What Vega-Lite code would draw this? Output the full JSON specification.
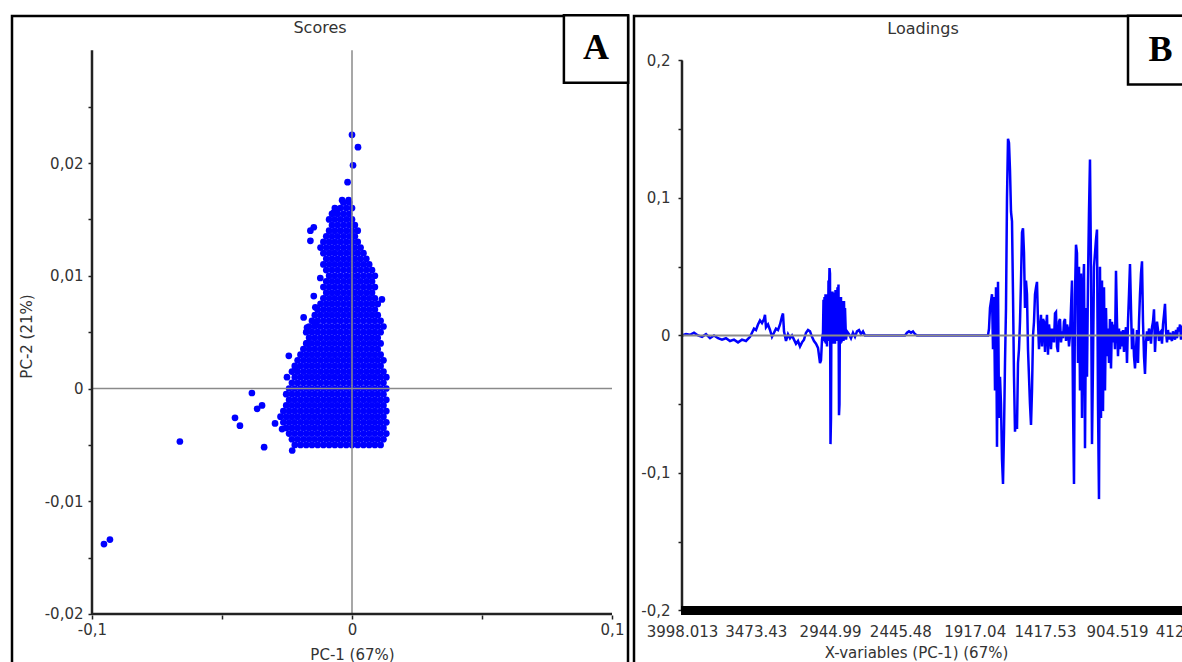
{
"$schema":"https://vega.github.io/schema/vega-lite/v6.json",
"background":"white",
"padding":{"left":10,"top":12,"right":0,"bottom":0},
"bounds":"flush",
"spacing":6,
"config":{
 "view":{"stroke":"black","strokeWidth":2.5},
 "font":"DejaVu Sans",
 "axis":{"labelFont":"DejaVu Sans","labelFontSize":15,"labelColor":"#333333","titleFont":"DejaVu Sans","titleFontSize":15,"titleFontWeight":"normal","titleColor":"#333333","grid":false,"domain":false,"labelFlush":false,"labelOverlap":false,"tickColor":"#222222","tickWidth":1.5},
 "title":{"font":"DejaVu Sans","fontSize":16,"fontWeight":"normal","color":"#333333"}
},
"datasets":{
"scores":[
{"pc1":0,"pc2":0.0225},{"pc1":0.0023,"pc2":0.0214},{"pc1":0.0004,"pc2":0.0198},{"pc1":-0.0017,"pc2":0.0183},
{"pc1":-0.0038,"pc2":0.0167},{"pc1":-0.0013,"pc2":0.0167},{"pc1":-0.007,"pc2":0.0156},{"pc1":-0.0058,"pc2":0.0159},
{"pc1":-0.016,"pc2":0.014},{"pc1":-0.0147,"pc2":0.0143},{"pc1":-0.016,"pc2":0.0131},
{"pc1":-0.0122,"pc2":0.0098},{"pc1":-0.0147,"pc2":0.0082},{"pc1":-0.0141,"pc2":0.0072},{"pc1":-0.0186,"pc2":0.0063},{"pc1":-0.0173,"pc2":0.0054},{"pc1":-0.0141,"pc2":0.0057},{"pc1":-0.0173,"pc2":0.004},{"pc1":-0.0243,"pc2":0.0029},{"pc1":-0.0218,"pc2":0.0017},{"pc1":-0.025,"pc2":0.001},{"pc1":0.0115,"pc2":0.0079},
{"pc1":-0.0385,"pc2":-0.0004},{"pc1":-0.0365,"pc2":-0.0018},{"pc1":-0.0346,"pc2":-0.0015},{"pc1":-0.045,"pc2":-0.0026},{"pc1":-0.0431,"pc2":-0.0033},{"pc1":-0.0662,"pc2":-0.0047},{"pc1":-0.0338,"pc2":-0.0052},{"pc1":-0.0954,"pc2":-0.0138},{"pc1":-0.0931,"pc2":-0.0134},{"pc1":-0.0296,"pc2":-0.0031},{"pc1":-0.0269,"pc2":-0.0036},{"pc1":-0.023,"pc2":-0.0055},
{"pc1":-0.0033,"pc2":0.0165},{"pc1":-0.0011,"pc2":0.0165},
{"pc1":-0.0066,"pc2":0.016},{"pc1":-0.0044,"pc2":0.016},{"pc1":-0.0022,"pc2":0.016},{"pc1":0,"pc2":0.016},
{"pc1":-0.0077,"pc2":0.0155},{"pc1":-0.0055,"pc2":0.0155},{"pc1":-0.0033,"pc2":0.0155},{"pc1":-0.0011,"pc2":0.0155},
{"pc1":-0.0088,"pc2":0.015},{"pc1":-0.0066,"pc2":0.015},{"pc1":-0.0044,"pc2":0.015},{"pc1":-0.0022,"pc2":0.015},{"pc1":0,"pc2":0.015},
{"pc1":-0.0077,"pc2":0.0145},{"pc1":-0.0055,"pc2":0.0145},{"pc1":-0.0033,"pc2":0.0145},{"pc1":-0.0011,"pc2":0.0145},{"pc1":0.0011,"pc2":0.0145},
{"pc1":-0.0088,"pc2":0.014},{"pc1":-0.0066,"pc2":0.014},{"pc1":-0.0044,"pc2":0.014},{"pc1":-0.0022,"pc2":0.014},{"pc1":0,"pc2":0.014},{"pc1":0.0022,"pc2":0.014},
{"pc1":-0.0099,"pc2":0.0135},{"pc1":-0.0077,"pc2":0.0135},{"pc1":-0.0055,"pc2":0.0135},{"pc1":-0.0033,"pc2":0.0135},{"pc1":-0.0011,"pc2":0.0135},{"pc1":0.0011,"pc2":0.0135},
{"pc1":-0.011,"pc2":0.013},{"pc1":-0.0088,"pc2":0.013},{"pc1":-0.0066,"pc2":0.013},{"pc1":-0.0044,"pc2":0.013},{"pc1":-0.0022,"pc2":0.013},{"pc1":0,"pc2":0.013},{"pc1":0.0022,"pc2":0.013},
{"pc1":-0.0121,"pc2":0.0125},{"pc1":-0.0099,"pc2":0.0125},{"pc1":-0.0077,"pc2":0.0125},{"pc1":-0.0055,"pc2":0.0125},{"pc1":-0.0033,"pc2":0.0125},{"pc1":-0.0011,"pc2":0.0125},{"pc1":0.0011,"pc2":0.0125},{"pc1":0.0033,"pc2":0.0125},
{"pc1":-0.011,"pc2":0.012},{"pc1":-0.0088,"pc2":0.012},{"pc1":-0.0066,"pc2":0.012},{"pc1":-0.0044,"pc2":0.012},{"pc1":-0.0022,"pc2":0.012},{"pc1":0,"pc2":0.012},{"pc1":0.0022,"pc2":0.012},{"pc1":0.0044,"pc2":0.012},
{"pc1":-0.0099,"pc2":0.0115},{"pc1":-0.0077,"pc2":0.0115},{"pc1":-0.0055,"pc2":0.0115},{"pc1":-0.0033,"pc2":0.0115},{"pc1":-0.0011,"pc2":0.0115},{"pc1":0.0011,"pc2":0.0115},{"pc1":0.0033,"pc2":0.0115},{"pc1":0.0055,"pc2":0.0115},
{"pc1":-0.011,"pc2":0.011},{"pc1":-0.0088,"pc2":0.011},{"pc1":-0.0066,"pc2":0.011},{"pc1":-0.0044,"pc2":0.011},{"pc1":-0.0022,"pc2":0.011},{"pc1":0,"pc2":0.011},{"pc1":0.0022,"pc2":0.011},{"pc1":0.0044,"pc2":0.011},{"pc1":0.0066,"pc2":0.011},
{"pc1":-0.0099,"pc2":0.0105},{"pc1":-0.0077,"pc2":0.0105},{"pc1":-0.0055,"pc2":0.0105},{"pc1":-0.0033,"pc2":0.0105},{"pc1":-0.0011,"pc2":0.0105},{"pc1":0.0011,"pc2":0.0105},{"pc1":0.0033,"pc2":0.0105},{"pc1":0.0055,"pc2":0.0105},{"pc1":0.0077,"pc2":0.0105},
{"pc1":-0.0088,"pc2":0.01},{"pc1":-0.0066,"pc2":0.01},{"pc1":-0.0044,"pc2":0.01},{"pc1":-0.0022,"pc2":0.01},{"pc1":0,"pc2":0.01},{"pc1":0.0022,"pc2":0.01},{"pc1":0.0044,"pc2":0.01},{"pc1":0.0066,"pc2":0.01},{"pc1":0.0088,"pc2":0.01},
{"pc1":-0.0099,"pc2":0.0095},{"pc1":-0.0077,"pc2":0.0095},{"pc1":-0.0055,"pc2":0.0095},{"pc1":-0.0033,"pc2":0.0095},{"pc1":-0.0011,"pc2":0.0095},{"pc1":0.0011,"pc2":0.0095},{"pc1":0.0033,"pc2":0.0095},{"pc1":0.0055,"pc2":0.0095},{"pc1":0.0077,"pc2":0.0095},
{"pc1":-0.011,"pc2":0.009},{"pc1":-0.0088,"pc2":0.009},{"pc1":-0.0066,"pc2":0.009},{"pc1":-0.0044,"pc2":0.009},{"pc1":-0.0022,"pc2":0.009},{"pc1":0,"pc2":0.009},{"pc1":0.0022,"pc2":0.009},{"pc1":0.0044,"pc2":0.009},{"pc1":0.0066,"pc2":0.009},{"pc1":0.0088,"pc2":0.009},
{"pc1":-0.0099,"pc2":0.0085},{"pc1":-0.0077,"pc2":0.0085},{"pc1":-0.0055,"pc2":0.0085},{"pc1":-0.0033,"pc2":0.0085},{"pc1":-0.0011,"pc2":0.0085},{"pc1":0.0011,"pc2":0.0085},{"pc1":0.0033,"pc2":0.0085},{"pc1":0.0055,"pc2":0.0085},{"pc1":0.0077,"pc2":0.0085},
{"pc1":-0.011,"pc2":0.008},{"pc1":-0.0088,"pc2":0.008},{"pc1":-0.0066,"pc2":0.008},{"pc1":-0.0044,"pc2":0.008},{"pc1":-0.0022,"pc2":0.008},{"pc1":0,"pc2":0.008},{"pc1":0.0022,"pc2":0.008},{"pc1":0.0044,"pc2":0.008},{"pc1":0.0066,"pc2":0.008},{"pc1":0.0088,"pc2":0.008},
{"pc1":-0.0121,"pc2":0.0075},{"pc1":-0.0099,"pc2":0.0075},{"pc1":-0.0077,"pc2":0.0075},{"pc1":-0.0055,"pc2":0.0075},{"pc1":-0.0033,"pc2":0.0075},{"pc1":-0.0011,"pc2":0.0075},{"pc1":0.0011,"pc2":0.0075},{"pc1":0.0033,"pc2":0.0075},{"pc1":0.0055,"pc2":0.0075},{"pc1":0.0077,"pc2":0.0075},{"pc1":0.0099,"pc2":0.0075},
{"pc1":-0.0132,"pc2":0.007},{"pc1":-0.011,"pc2":0.007},{"pc1":-0.0088,"pc2":0.007},{"pc1":-0.0066,"pc2":0.007},{"pc1":-0.0044,"pc2":0.007},{"pc1":-0.0022,"pc2":0.007},{"pc1":0,"pc2":0.007},{"pc1":0.0022,"pc2":0.007},{"pc1":0.0044,"pc2":0.007},{"pc1":0.0066,"pc2":0.007},{"pc1":0.0088,"pc2":0.007},
{"pc1":-0.0143,"pc2":0.0065},{"pc1":-0.0121,"pc2":0.0065},{"pc1":-0.0099,"pc2":0.0065},{"pc1":-0.0077,"pc2":0.0065},{"pc1":-0.0055,"pc2":0.0065},{"pc1":-0.0033,"pc2":0.0065},{"pc1":-0.0011,"pc2":0.0065},{"pc1":0.0011,"pc2":0.0065},{"pc1":0.0033,"pc2":0.0065},{"pc1":0.0055,"pc2":0.0065},{"pc1":0.0077,"pc2":0.0065},{"pc1":0.0099,"pc2":0.0065},
{"pc1":-0.0154,"pc2":0.006},{"pc1":-0.0132,"pc2":0.006},{"pc1":-0.011,"pc2":0.006},{"pc1":-0.0088,"pc2":0.006},{"pc1":-0.0066,"pc2":0.006},{"pc1":-0.0044,"pc2":0.006},{"pc1":-0.0022,"pc2":0.006},{"pc1":0,"pc2":0.006},{"pc1":0.0022,"pc2":0.006},{"pc1":0.0044,"pc2":0.006},{"pc1":0.0066,"pc2":0.006},{"pc1":0.0088,"pc2":0.006},{"pc1":0.011,"pc2":0.006},
{"pc1":-0.0165,"pc2":0.0055},{"pc1":-0.0143,"pc2":0.0055},{"pc1":-0.0121,"pc2":0.0055},{"pc1":-0.0099,"pc2":0.0055},{"pc1":-0.0077,"pc2":0.0055},{"pc1":-0.0055,"pc2":0.0055},{"pc1":-0.0033,"pc2":0.0055},{"pc1":-0.0011,"pc2":0.0055},{"pc1":0.0011,"pc2":0.0055},{"pc1":0.0033,"pc2":0.0055},{"pc1":0.0055,"pc2":0.0055},{"pc1":0.0077,"pc2":0.0055},{"pc1":0.0099,"pc2":0.0055},{"pc1":0.0121,"pc2":0.0055},
{"pc1":-0.0176,"pc2":0.005},{"pc1":-0.0154,"pc2":0.005},{"pc1":-0.0132,"pc2":0.005},{"pc1":-0.011,"pc2":0.005},{"pc1":-0.0088,"pc2":0.005},{"pc1":-0.0066,"pc2":0.005},{"pc1":-0.0044,"pc2":0.005},{"pc1":-0.0022,"pc2":0.005},{"pc1":0,"pc2":0.005},{"pc1":0.0022,"pc2":0.005},{"pc1":0.0044,"pc2":0.005},{"pc1":0.0066,"pc2":0.005},{"pc1":0.0088,"pc2":0.005},{"pc1":0.011,"pc2":0.005},
{"pc1":-0.0165,"pc2":0.0045},{"pc1":-0.0143,"pc2":0.0045},{"pc1":-0.0121,"pc2":0.0045},{"pc1":-0.0099,"pc2":0.0045},{"pc1":-0.0077,"pc2":0.0045},{"pc1":-0.0055,"pc2":0.0045},{"pc1":-0.0033,"pc2":0.0045},{"pc1":-0.0011,"pc2":0.0045},{"pc1":0.0011,"pc2":0.0045},{"pc1":0.0033,"pc2":0.0045},{"pc1":0.0055,"pc2":0.0045},{"pc1":0.0077,"pc2":0.0045},{"pc1":0.0099,"pc2":0.0045},
{"pc1":-0.0176,"pc2":0.004},{"pc1":-0.0154,"pc2":0.004},{"pc1":-0.0132,"pc2":0.004},{"pc1":-0.011,"pc2":0.004},{"pc1":-0.0088,"pc2":0.004},{"pc1":-0.0066,"pc2":0.004},{"pc1":-0.0044,"pc2":0.004},{"pc1":-0.0022,"pc2":0.004},{"pc1":0,"pc2":0.004},{"pc1":0.0022,"pc2":0.004},{"pc1":0.0044,"pc2":0.004},{"pc1":0.0066,"pc2":0.004},{"pc1":0.0088,"pc2":0.004},{"pc1":0.011,"pc2":0.004},
{"pc1":-0.0187,"pc2":0.0035},{"pc1":-0.0165,"pc2":0.0035},{"pc1":-0.0143,"pc2":0.0035},{"pc1":-0.0121,"pc2":0.0035},{"pc1":-0.0099,"pc2":0.0035},{"pc1":-0.0077,"pc2":0.0035},{"pc1":-0.0055,"pc2":0.0035},{"pc1":-0.0033,"pc2":0.0035},{"pc1":-0.0011,"pc2":0.0035},{"pc1":0.0011,"pc2":0.0035},{"pc1":0.0033,"pc2":0.0035},{"pc1":0.0055,"pc2":0.0035},{"pc1":0.0077,"pc2":0.0035},{"pc1":0.0099,"pc2":0.0035},
{"pc1":-0.0198,"pc2":0.003},{"pc1":-0.0176,"pc2":0.003},{"pc1":-0.0154,"pc2":0.003},{"pc1":-0.0132,"pc2":0.003},{"pc1":-0.011,"pc2":0.003},{"pc1":-0.0088,"pc2":0.003},{"pc1":-0.0066,"pc2":0.003},{"pc1":-0.0044,"pc2":0.003},{"pc1":-0.0022,"pc2":0.003},{"pc1":0,"pc2":0.003},{"pc1":0.0022,"pc2":0.003},{"pc1":0.0044,"pc2":0.003},{"pc1":0.0066,"pc2":0.003},{"pc1":0.0088,"pc2":0.003},{"pc1":0.011,"pc2":0.003},
{"pc1":-0.0209,"pc2":0.0025},{"pc1":-0.0187,"pc2":0.0025},{"pc1":-0.0165,"pc2":0.0025},{"pc1":-0.0143,"pc2":0.0025},{"pc1":-0.0121,"pc2":0.0025},{"pc1":-0.0099,"pc2":0.0025},{"pc1":-0.0077,"pc2":0.0025},{"pc1":-0.0055,"pc2":0.0025},{"pc1":-0.0033,"pc2":0.0025},{"pc1":-0.0011,"pc2":0.0025},{"pc1":0.0011,"pc2":0.0025},{"pc1":0.0033,"pc2":0.0025},{"pc1":0.0055,"pc2":0.0025},{"pc1":0.0077,"pc2":0.0025},{"pc1":0.0099,"pc2":0.0025},{"pc1":0.0121,"pc2":0.0025},
{"pc1":-0.022,"pc2":0.002},{"pc1":-0.0198,"pc2":0.002},{"pc1":-0.0176,"pc2":0.002},{"pc1":-0.0154,"pc2":0.002},{"pc1":-0.0132,"pc2":0.002},{"pc1":-0.011,"pc2":0.002},{"pc1":-0.0088,"pc2":0.002},{"pc1":-0.0066,"pc2":0.002},{"pc1":-0.0044,"pc2":0.002},{"pc1":-0.0022,"pc2":0.002},{"pc1":0,"pc2":0.002},{"pc1":0.0022,"pc2":0.002},{"pc1":0.0044,"pc2":0.002},{"pc1":0.0066,"pc2":0.002},{"pc1":0.0088,"pc2":0.002},{"pc1":0.011,"pc2":0.002},
{"pc1":-0.0231,"pc2":0.0015},{"pc1":-0.0209,"pc2":0.0015},{"pc1":-0.0187,"pc2":0.0015},{"pc1":-0.0165,"pc2":0.0015},{"pc1":-0.0143,"pc2":0.0015},{"pc1":-0.0121,"pc2":0.0015},{"pc1":-0.0099,"pc2":0.0015},{"pc1":-0.0077,"pc2":0.0015},{"pc1":-0.0055,"pc2":0.0015},{"pc1":-0.0033,"pc2":0.0015},{"pc1":-0.0011,"pc2":0.0015},{"pc1":0.0011,"pc2":0.0015},{"pc1":0.0033,"pc2":0.0015},{"pc1":0.0055,"pc2":0.0015},{"pc1":0.0077,"pc2":0.0015},{"pc1":0.0099,"pc2":0.0015},{"pc1":0.0121,"pc2":0.0015},
{"pc1":-0.022,"pc2":0.001},{"pc1":-0.0198,"pc2":0.001},{"pc1":-0.0176,"pc2":0.001},{"pc1":-0.0154,"pc2":0.001},{"pc1":-0.0132,"pc2":0.001},{"pc1":-0.011,"pc2":0.001},{"pc1":-0.0088,"pc2":0.001},{"pc1":-0.0066,"pc2":0.001},{"pc1":-0.0044,"pc2":0.001},{"pc1":-0.0022,"pc2":0.001},{"pc1":0,"pc2":0.001},{"pc1":0.0022,"pc2":0.001},{"pc1":0.0044,"pc2":0.001},{"pc1":0.0066,"pc2":0.001},{"pc1":0.0088,"pc2":0.001},{"pc1":0.011,"pc2":0.001},{"pc1":0.0132,"pc2":0.001},
{"pc1":-0.0231,"pc2":0.0005},{"pc1":-0.0209,"pc2":0.0005},{"pc1":-0.0187,"pc2":0.0005},{"pc1":-0.0165,"pc2":0.0005},{"pc1":-0.0143,"pc2":0.0005},{"pc1":-0.0121,"pc2":0.0005},{"pc1":-0.0099,"pc2":0.0005},{"pc1":-0.0077,"pc2":0.0005},{"pc1":-0.0055,"pc2":0.0005},{"pc1":-0.0033,"pc2":0.0005},{"pc1":-0.0011,"pc2":0.0005},{"pc1":0.0011,"pc2":0.0005},{"pc1":0.0033,"pc2":0.0005},{"pc1":0.0055,"pc2":0.0005},{"pc1":0.0077,"pc2":0.0005},{"pc1":0.0099,"pc2":0.0005},{"pc1":0.0121,"pc2":0.0005},
{"pc1":-0.0242,"pc2":0},{"pc1":-0.022,"pc2":0},{"pc1":-0.0198,"pc2":0},{"pc1":-0.0176,"pc2":0},{"pc1":-0.0154,"pc2":0},{"pc1":-0.0132,"pc2":0},{"pc1":-0.011,"pc2":0},{"pc1":-0.0088,"pc2":0},{"pc1":-0.0066,"pc2":0},{"pc1":-0.0044,"pc2":0},{"pc1":-0.0022,"pc2":0},{"pc1":0,"pc2":0},{"pc1":0.0022,"pc2":0},{"pc1":0.0044,"pc2":0},{"pc1":0.0066,"pc2":0},{"pc1":0.0088,"pc2":0},{"pc1":0.011,"pc2":0},{"pc1":0.0132,"pc2":0},
{"pc1":-0.0253,"pc2":-0.0005},{"pc1":-0.0231,"pc2":-0.0005},{"pc1":-0.0209,"pc2":-0.0005},{"pc1":-0.0187,"pc2":-0.0005},{"pc1":-0.0165,"pc2":-0.0005},{"pc1":-0.0143,"pc2":-0.0005},{"pc1":-0.0121,"pc2":-0.0005},{"pc1":-0.0099,"pc2":-0.0005},{"pc1":-0.0077,"pc2":-0.0005},{"pc1":-0.0055,"pc2":-0.0005},{"pc1":-0.0033,"pc2":-0.0005},{"pc1":-0.0011,"pc2":-0.0005},{"pc1":0.0011,"pc2":-0.0005},{"pc1":0.0033,"pc2":-0.0005},{"pc1":0.0055,"pc2":-0.0005},{"pc1":0.0077,"pc2":-0.0005},{"pc1":0.0099,"pc2":-0.0005},{"pc1":0.0121,"pc2":-0.0005},
{"pc1":-0.0242,"pc2":-0.001},{"pc1":-0.022,"pc2":-0.001},{"pc1":-0.0198,"pc2":-0.001},{"pc1":-0.0176,"pc2":-0.001},{"pc1":-0.0154,"pc2":-0.001},{"pc1":-0.0132,"pc2":-0.001},{"pc1":-0.011,"pc2":-0.001},{"pc1":-0.0088,"pc2":-0.001},{"pc1":-0.0066,"pc2":-0.001},{"pc1":-0.0044,"pc2":-0.001},{"pc1":-0.0022,"pc2":-0.001},{"pc1":0,"pc2":-0.001},{"pc1":0.0022,"pc2":-0.001},{"pc1":0.0044,"pc2":-0.001},{"pc1":0.0066,"pc2":-0.001},{"pc1":0.0088,"pc2":-0.001},{"pc1":0.011,"pc2":-0.001},{"pc1":0.0132,"pc2":-0.001},
{"pc1":-0.0253,"pc2":-0.0015},{"pc1":-0.0231,"pc2":-0.0015},{"pc1":-0.0209,"pc2":-0.0015},{"pc1":-0.0187,"pc2":-0.0015},{"pc1":-0.0165,"pc2":-0.0015},{"pc1":-0.0143,"pc2":-0.0015},{"pc1":-0.0121,"pc2":-0.0015},{"pc1":-0.0099,"pc2":-0.0015},{"pc1":-0.0077,"pc2":-0.0015},{"pc1":-0.0055,"pc2":-0.0015},{"pc1":-0.0033,"pc2":-0.0015},{"pc1":-0.0011,"pc2":-0.0015},{"pc1":0.0011,"pc2":-0.0015},{"pc1":0.0033,"pc2":-0.0015},{"pc1":0.0055,"pc2":-0.0015},{"pc1":0.0077,"pc2":-0.0015},{"pc1":0.0099,"pc2":-0.0015},{"pc1":0.0121,"pc2":-0.0015},
{"pc1":-0.0264,"pc2":-0.002},{"pc1":-0.0242,"pc2":-0.002},{"pc1":-0.022,"pc2":-0.002},{"pc1":-0.0198,"pc2":-0.002},{"pc1":-0.0176,"pc2":-0.002},{"pc1":-0.0154,"pc2":-0.002},{"pc1":-0.0132,"pc2":-0.002},{"pc1":-0.011,"pc2":-0.002},{"pc1":-0.0088,"pc2":-0.002},{"pc1":-0.0066,"pc2":-0.002},{"pc1":-0.0044,"pc2":-0.002},{"pc1":-0.0022,"pc2":-0.002},{"pc1":0,"pc2":-0.002},{"pc1":0.0022,"pc2":-0.002},{"pc1":0.0044,"pc2":-0.002},{"pc1":0.0066,"pc2":-0.002},{"pc1":0.0088,"pc2":-0.002},{"pc1":0.011,"pc2":-0.002},{"pc1":0.0132,"pc2":-0.002},
{"pc1":-0.0275,"pc2":-0.0025},{"pc1":-0.0253,"pc2":-0.0025},{"pc1":-0.0231,"pc2":-0.0025},{"pc1":-0.0209,"pc2":-0.0025},{"pc1":-0.0187,"pc2":-0.0025},{"pc1":-0.0165,"pc2":-0.0025},{"pc1":-0.0143,"pc2":-0.0025},{"pc1":-0.0121,"pc2":-0.0025},{"pc1":-0.0099,"pc2":-0.0025},{"pc1":-0.0077,"pc2":-0.0025},{"pc1":-0.0055,"pc2":-0.0025},{"pc1":-0.0033,"pc2":-0.0025},{"pc1":-0.0011,"pc2":-0.0025},{"pc1":0.0011,"pc2":-0.0025},{"pc1":0.0033,"pc2":-0.0025},{"pc1":0.0055,"pc2":-0.0025},{"pc1":0.0077,"pc2":-0.0025},{"pc1":0.0099,"pc2":-0.0025},{"pc1":0.0121,"pc2":-0.0025},
{"pc1":-0.0264,"pc2":-0.003},{"pc1":-0.0242,"pc2":-0.003},{"pc1":-0.022,"pc2":-0.003},{"pc1":-0.0198,"pc2":-0.003},{"pc1":-0.0176,"pc2":-0.003},{"pc1":-0.0154,"pc2":-0.003},{"pc1":-0.0132,"pc2":-0.003},{"pc1":-0.011,"pc2":-0.003},{"pc1":-0.0088,"pc2":-0.003},{"pc1":-0.0066,"pc2":-0.003},{"pc1":-0.0044,"pc2":-0.003},{"pc1":-0.0022,"pc2":-0.003},{"pc1":0,"pc2":-0.003},{"pc1":0.0022,"pc2":-0.003},{"pc1":0.0044,"pc2":-0.003},{"pc1":0.0066,"pc2":-0.003},{"pc1":0.0088,"pc2":-0.003},{"pc1":0.011,"pc2":-0.003},{"pc1":0.0132,"pc2":-0.003},
{"pc1":-0.0253,"pc2":-0.0035},{"pc1":-0.0231,"pc2":-0.0035},{"pc1":-0.0209,"pc2":-0.0035},{"pc1":-0.0187,"pc2":-0.0035},{"pc1":-0.0165,"pc2":-0.0035},{"pc1":-0.0143,"pc2":-0.0035},{"pc1":-0.0121,"pc2":-0.0035},{"pc1":-0.0099,"pc2":-0.0035},{"pc1":-0.0077,"pc2":-0.0035},{"pc1":-0.0055,"pc2":-0.0035},{"pc1":-0.0033,"pc2":-0.0035},{"pc1":-0.0011,"pc2":-0.0035},{"pc1":0.0011,"pc2":-0.0035},{"pc1":0.0033,"pc2":-0.0035},{"pc1":0.0055,"pc2":-0.0035},{"pc1":0.0077,"pc2":-0.0035},{"pc1":0.0099,"pc2":-0.0035},{"pc1":0.0121,"pc2":-0.0035},
{"pc1":-0.0242,"pc2":-0.004},{"pc1":-0.022,"pc2":-0.004},{"pc1":-0.0198,"pc2":-0.004},{"pc1":-0.0176,"pc2":-0.004},{"pc1":-0.0154,"pc2":-0.004},{"pc1":-0.0132,"pc2":-0.004},{"pc1":-0.011,"pc2":-0.004},{"pc1":-0.0088,"pc2":-0.004},{"pc1":-0.0066,"pc2":-0.004},{"pc1":-0.0044,"pc2":-0.004},{"pc1":-0.0022,"pc2":-0.004},{"pc1":0,"pc2":-0.004},{"pc1":0.0022,"pc2":-0.004},{"pc1":0.0044,"pc2":-0.004},{"pc1":0.0066,"pc2":-0.004},{"pc1":0.0088,"pc2":-0.004},{"pc1":0.011,"pc2":-0.004},{"pc1":0.0132,"pc2":-0.004},
{"pc1":-0.0231,"pc2":-0.0045},{"pc1":-0.0209,"pc2":-0.0045},{"pc1":-0.0187,"pc2":-0.0045},{"pc1":-0.0165,"pc2":-0.0045},{"pc1":-0.0143,"pc2":-0.0045},{"pc1":-0.0121,"pc2":-0.0045},{"pc1":-0.0099,"pc2":-0.0045},{"pc1":-0.0077,"pc2":-0.0045},{"pc1":-0.0055,"pc2":-0.0045},{"pc1":-0.0033,"pc2":-0.0045},{"pc1":-0.0011,"pc2":-0.0045},{"pc1":0.0011,"pc2":-0.0045},{"pc1":0.0033,"pc2":-0.0045},{"pc1":0.0055,"pc2":-0.0045},{"pc1":0.0077,"pc2":-0.0045},{"pc1":0.0099,"pc2":-0.0045},{"pc1":0.0121,"pc2":-0.0045},
{"pc1":-0.022,"pc2":-0.005},{"pc1":-0.0198,"pc2":-0.005},{"pc1":-0.0176,"pc2":-0.005},{"pc1":-0.0154,"pc2":-0.005},{"pc1":-0.0132,"pc2":-0.005},{"pc1":-0.011,"pc2":-0.005},{"pc1":-0.0088,"pc2":-0.005},{"pc1":-0.0066,"pc2":-0.005},{"pc1":-0.0044,"pc2":-0.005},{"pc1":-0.0022,"pc2":-0.005},{"pc1":0,"pc2":-0.005},{"pc1":0.0022,"pc2":-0.005},{"pc1":0.0044,"pc2":-0.005},{"pc1":0.0066,"pc2":-0.005},{"pc1":0.0088,"pc2":-0.005},{"pc1":0.011,"pc2":-0.005}
],
"loadings":[
{"wn":3998.0,"loading":0},{"wn":3969.6,"loading":0.001},{"wn":3941.1,"loading":0.0005},{"wn":3912.7,"loading":0.002},{"wn":3884.2,"loading":0},{"wn":3855.8,"loading":-0.001},{"wn":3827.4,"loading":0.001},{"wn":3798.9,"loading":-0.002},{"wn":3770.5,"loading":0},{"wn":3742.0,"loading":-0.002},{"wn":3713.6,"loading":-0.003},{"wn":3685.2,"loading":-0.002},{"wn":3656.7,"loading":-0.004},{"wn":3628.3,"loading":-0.003},{"wn":3599.8,"loading":-0.005},{"wn":3571.4,"loading":-0.003},{"wn":3543.0,"loading":-0.004},{"wn":3514.5,"loading":-0.001},{"wn":3500.3,"loading":0.002},{"wn":3486.1,"loading":0.005},{"wn":3471.9,"loading":0.004},{"wn":3457.6,"loading":0.008},{"wn":3443.4,"loading":0.011},{"wn":3429.2,"loading":0.009},{"wn":3415.0,"loading":0.012},{"wn":3407.9,"loading":0.015},{"wn":3400.8,"loading":0.006},{"wn":3386.5,"loading":0.008},{"wn":3372.3,"loading":0.004},{"wn":3358.1,"loading":-0.001},{"wn":3343.9,"loading":0.002},{"wn":3329.7,"loading":0.005},{"wn":3315.4,"loading":0.004},{"wn":3301.2,"loading":0.008},{"wn":3287.0,"loading":0.014},{"wn":3279.9,"loading":0.016},{"wn":3272.8,"loading":0.003},{"wn":3258.6,"loading":-0.004},{"wn":3244.3,"loading":0.001},{"wn":3230.1,"loading":-0.002},{"wn":3215.9,"loading":0},{"wn":3201.7,"loading":-0.003},{"wn":3187.5,"loading":-0.006},{"wn":3173.2,"loading":-0.004},{"wn":3159.0,"loading":-0.008},{"wn":3144.8,"loading":-0.005},{"wn":3130.6,"loading":-0.003},{"wn":3116.4,"loading":0.002},{"wn":3102.1,"loading":0.004},{"wn":3087.9,"loading":0.003},{"wn":3073.7,"loading":-0.001},{"wn":3059.5,"loading":-0.004},{"wn":3045.3,"loading":-0.006},{"wn":3031.0,"loading":-0.009},{"wn":3016.8,"loading":-0.02},{"wn":3009.7,"loading":-0.018},{"wn":3002.6,"loading":-0.003},{"wn":2995.5,"loading":0.002},
{"wn":2991.9,"loading":0.026},{"wn":2988.4,"loading":-0.004},{"wn":2984.8,"loading":0.028},{"wn":2981.3,"loading":-0.005},{"wn":2977.7,"loading":0.03},{"wn":2974.2,"loading":-0.006},{"wn":2970.6,"loading":0.029},{"wn":2967.1,"loading":-0.008},{"wn":2963.5,"loading":0.03},{"wn":2960.0,"loading":-0.004},{"wn":2956.4,"loading":0.04},{"wn":2952.9,"loading":0.03},{"wn":2949.3,"loading":0.049},{"wn":2945.7,"loading":0.045},{"wn":2942.2,"loading":-0.079},{"wn":2938.6,"loading":-0.06},{"wn":2935.1,"loading":0.03},{"wn":2931.5,"loading":-0.005},{"wn":2928.0,"loading":0.032},{"wn":2924.4,"loading":-0.006},{"wn":2920.9,"loading":0.03},{"wn":2917.3,"loading":-0.004},{"wn":2913.8,"loading":0.031},{"wn":2910.2,"loading":-0.006},{"wn":2906.7,"loading":0.033},{"wn":2903.1,"loading":-0.004},{"wn":2899.6,"loading":0.03},{"wn":2896.0,"loading":-0.004},{"wn":2892.5,"loading":0.035},{"wn":2888.9,"loading":0.02},{"wn":2885.4,"loading":0.037},{"wn":2881.8,"loading":-0.058},{"wn":2878.3,"loading":-0.05},{"wn":2874.7,"loading":0.025},{"wn":2871.2,"loading":-0.006},{"wn":2867.6,"loading":0.028},{"wn":2864.0,"loading":-0.005},{"wn":2860.4,"loading":0.025},{"wn":2856.9,"loading":-0.004},{"wn":2853.3,"loading":0.02},{"wn":2849.8,"loading":-0.004},{"wn":2846.2,"loading":0.025},{"wn":2842.7,"loading":0.003},{"wn":2839.1,"loading":0.02},{"wn":2832.0,"loading":-0.003},{"wn":2824.9,"loading":0.003},
{"wn":2810.6,"loading":0.001},{"wn":2796.4,"loading":-0.002},{"wn":2782.2,"loading":0.002},{"wn":2768.0,"loading":-0.001},{"wn":2753.8,"loading":0.003},{"wn":2739.5,"loading":0.004},{"wn":2725.3,"loading":0.001},{"wn":2711.1,"loading":0.003},{"wn":2696.9,"loading":0},{"wn":2682.7,"loading":0},{"wn":2576.0,"loading":0},{"wn":2412.5,"loading":0},{"wn":2398.3,"loading":0.002},{"wn":2384.0,"loading":0.003},{"wn":2369.8,"loading":0.002},{"wn":2355.6,"loading":0.003},{"wn":2341.4,"loading":0.001},{"wn":2327.2,"loading":0},{"wn":2078.3,"loading":0},{"wn":1822.3,"loading":0},
{"wn":1815.2,"loading":0.005},{"wn":1808.1,"loading":0.02},{"wn":1801.0,"loading":0.025},{"wn":1793.9,"loading":0.03},{"wn":1786.8,"loading":-0.01},{"wn":1779.7,"loading":0.028},{"wn":1772.6,"loading":-0.04},{"wn":1765.5,"loading":0.035},{"wn":1758.4,"loading":-0.081},{"wn":1751.2,"loading":0.039},{"wn":1744.1,"loading":-0.06},{"wn":1737.0,"loading":-0.03},{"wn":1729.9,"loading":-0.05},{"wn":1722.8,"loading":-0.09},{"wn":1715.7,"loading":-0.108},{"wn":1708.6,"loading":-0.07},{"wn":1701.5,"loading":-0.02},{"wn":1694.4,"loading":0.02},{"wn":1687.3,"loading":0.1},{"wn":1680.1,"loading":0.143},{"wn":1673.0,"loading":0.14},{"wn":1665.9,"loading":0.12},{"wn":1658.8,"loading":0.09},{"wn":1651.7,"loading":0.083},{"wn":1644.6,"loading":0.03},{"wn":1637.5,"loading":-0.03},{"wn":1630.4,"loading":-0.07},{"wn":1623.3,"loading":-0.06},{"wn":1616.2,"loading":-0.068},{"wn":1609.1,"loading":-0.02},{"wn":1602.0,"loading":-0.01},{"wn":1594.8,"loading":0.01},{"wn":1587.7,"loading":0.04},{"wn":1580.6,"loading":0.075},{"wn":1573.5,"loading":0.078},{"wn":1566.4,"loading":0.06},{"wn":1559.3,"loading":0.02},{"wn":1552.2,"loading":0.04},{"wn":1545.1,"loading":0.03},{"wn":1538.0,"loading":-0.01},{"wn":1530.9,"loading":-0.03},{"wn":1523.8,"loading":-0.05},{"wn":1516.6,"loading":-0.065},{"wn":1509.5,"loading":-0.04},{"wn":1502.4,"loading":0},{"wn":1495.3,"loading":0.01},{"wn":1488.2,"loading":0.03},{"wn":1481.1,"loading":0.035},{"wn":1474.0,"loading":0.039},{"wn":1466.9,"loading":0.01},{"wn":1459.8,"loading":-0.01},{"wn":1452.7,"loading":0.005},{"wn":1445.6,"loading":0.015},{"wn":1438.4,"loading":-0.008},{"wn":1431.3,"loading":0.012},{"wn":1424.2,"loading":0.01},{"wn":1417.1,"loading":-0.012},{"wn":1410.0,"loading":0.005},{"wn":1402.9,"loading":0.015},{"wn":1395.8,"loading":-0.014},{"wn":1388.7,"loading":0.008},{"wn":1381.6,"loading":0.002},{"wn":1374.5,"loading":-0.01},{"wn":1367.3,"loading":0.005},{"wn":1353.1,"loading":-0.005},{"wn":1346.0,"loading":0.016},{"wn":1338.9,"loading":0.017},{"wn":1331.8,"loading":-0.008},{"wn":1324.7,"loading":-0.012},{"wn":1317.6,"loading":0.01},{"wn":1310.5,"loading":0.012},{"wn":1303.3,"loading":-0.005},{"wn":1296.2,"loading":0.003},{"wn":1289.1,"loading":-0.002},{"wn":1282.0,"loading":0.01},{"wn":1274.9,"loading":0.012},{"wn":1267.8,"loading":-0.004},{"wn":1260.7,"loading":0.008},{"wn":1253.6,"loading":0.005},{"wn":1246.5,"loading":-0.008},{"wn":1239.4,"loading":0},{"wn":1232.3,"loading":0.02},{"wn":1225.1,"loading":0.04},{"wn":1218.0,"loading":-0.05},{"wn":1210.9,"loading":-0.108},{"wn":1203.8,"loading":0.03},{"wn":1196.7,"loading":0.066},{"wn":1189.6,"loading":0.06},{"wn":1182.5,"loading":-0.02},{"wn":1175.4,"loading":0.05},{"wn":1168.3,"loading":-0.04},{"wn":1161.2,"loading":0.045},{"wn":1154.0,"loading":-0.06},{"wn":1146.9,"loading":0.03},{"wn":1139.8,"loading":0.052},{"wn":1132.7,"loading":-0.082},{"wn":1125.6,"loading":0.02},{"wn":1118.5,"loading":-0.03},{"wn":1111.4,"loading":0.04},{"wn":1104.3,"loading":0.09},{"wn":1097.2,"loading":0.128},{"wn":1090.1,"loading":0.05},{"wn":1082.9,"loading":-0.079},{"wn":1075.8,"loading":-0.02},{"wn":1068.7,"loading":0.05},{"wn":1061.6,"loading":0.06},{"wn":1054.5,"loading":0.07},{"wn":1047.4,"loading":0.077},{"wn":1040.3,"loading":-0.05},{"wn":1033.2,"loading":-0.119},{"wn":1026.1,"loading":0.05},{"wn":1019.0,"loading":-0.06},{"wn":1011.8,"loading":0.04},{"wn":1004.7,"loading":-0.055},{"wn":997.6,"loading":0.035},{"wn":990.5,"loading":-0.04},{"wn":983.4,"loading":0.02},{"wn":976.3,"loading":-0.015},{"wn":969.2,"loading":0.005},{"wn":962.1,"loading":-0.02},{"wn":955.0,"loading":0.012},{"wn":947.9,"loading":-0.024},{"wn":940.7,"loading":0.01},{"wn":933.6,"loading":-0.005},{"wn":926.5,"loading":0.008},{"wn":919.4,"loading":-0.01},{"wn":912.3,"loading":0.047},{"wn":905.2,"loading":0.01},{"wn":898.1,"loading":-0.015},{"wn":891.0,"loading":0.005},{"wn":883.9,"loading":-0.01},{"wn":876.8,"loading":0.003},{"wn":869.6,"loading":-0.008},{"wn":862.5,"loading":0.004},{"wn":855.4,"loading":-0.012},{"wn":848.3,"loading":0},{"wn":841.2,"loading":0.006},{"wn":834.1,"loading":-0.02},{"wn":827.0,"loading":0.01},{"wn":819.9,"loading":0.03},{"wn":812.8,"loading":0.052},{"wn":805.7,"loading":0.02},{"wn":798.5,"loading":-0.01},{"wn":791.4,"loading":0.005},{"wn":784.3,"loading":-0.015},{"wn":777.2,"loading":-0.024},{"wn":770.1,"loading":-0.01},{"wn":763.0,"loading":0.004},{"wn":755.9,"loading":-0.02},{"wn":748.8,"loading":0.01},{"wn":741.7,"loading":0.03},{"wn":734.6,"loading":0.045},{"wn":727.4,"loading":0.054},{"wn":720.3,"loading":0.01},{"wn":713.2,"loading":-0.015},{"wn":706.1,"loading":-0.028},{"wn":699.0,"loading":-0.005},{"wn":691.9,"loading":0.003},{"wn":684.8,"loading":-0.004},{"wn":677.7,"loading":0.005},{"wn":670.6,"loading":0.002},{"wn":663.5,"loading":-0.006},{"wn":656.3,"loading":0.006},{"wn":649.2,"loading":0.01},{"wn":642.1,"loading":0.019},{"wn":635.0,"loading":-0.012},{"wn":627.9,"loading":0.003},{"wn":620.8,"loading":0.01},{"wn":613.7,"loading":0.004},{"wn":606.6,"loading":-0.004},{"wn":599.5,"loading":0.002},{"wn":592.4,"loading":0.003},{"wn":585.2,"loading":-0.006},{"wn":578.1,"loading":0.008},{"wn":571.0,"loading":0.015},{"wn":563.9,"loading":0.023},{"wn":556.8,"loading":0.003},{"wn":549.7,"loading":-0.005},{"wn":542.6,"loading":0.004},{"wn":535.5,"loading":-0.003},{"wn":528.4,"loading":0.002},{"wn":521.3,"loading":-0.002},{"wn":514.1,"loading":-0.004},{"wn":507.0,"loading":0.003},{"wn":499.9,"loading":0},{"wn":492.8,"loading":-0.003},{"wn":485.7,"loading":0.004},{"wn":478.6,"loading":-0.002},{"wn":471.5,"loading":0.006},{"wn":464.4,"loading":0.003},{"wn":457.3,"loading":0.008},{"wn":450.2,"loading":-0.003},{"wn":443.0,"loading":0.007},{"wn":428.8,"loading":0.003},{"wn":400.4,"loading":-0.002},{"wn":372.0,"loading":0.002}
]
},
"hconcat":[
{
 "width":616,"height":660,
 "title":{"text":"Scores","frame":"group","offset":0,"dy":22,"fontSize":16},
 "layer":[
  {"data":{"name":"scores"},
   "mark":{"type":"circle","size":45,"color":"#0000ff","opacity":1},
   "encoding":{
    "x":{"field":"pc1","type":"quantitative","scale":{"domain":[-0.130769,0.106154],"nice":false,"zero":false},
      "axis":{"orient":"bottom","offset":-61,"values":[-0.1,-0.05,0,0.05,0.1],"tickSize":4,"labelPadding":3,
        "labelExpr":"abs(datum.value*10 - round(datum.value*10)) > 0.001 ? '' : (datum.value < 0 ? '-' : '') + replace(format(abs(datum.value), '~g'), '.', ',')",
        "title":"PC-1 (67%)","titleX":340,"titleY":39,"titleBaseline":"middle","titleAnchor":"middle"}},
    "y":{"field":"pc2","type":"quantitative","scale":{"domain":[-0.025499,0.033038],"nice":false,"zero":false},
      "axis":{"orient":"left","offset":-80,"values":[-0.02,-0.015,-0.01,-0.005,0,0.005,0.01,0.015,0.02,0.025],"tickSize":4,"labelPadding":5,
        "labelExpr":"abs(datum.value*100 - round(datum.value*100)) > 0.001 ? '' : (datum.value < 0 ? '-' : '') + replace(format(abs(datum.value), '~g'), '.', ',')",
        "title":"PC-2 (21%)","titleX":-66,"titleY":320,"titleBaseline":"middle","titleAngle":270}}
   }},
  {"data":{"values":[{}]},"mark":{"type":"rule","color":"#8a8a8a","strokeWidth":1.5},
   "encoding":{"x":{"datum":0,"type":"quantitative"},"y":{"datum":-0.02,"type":"quantitative"},"y2":{"datum":0.03}}},
  {"data":{"values":[{}]},"mark":{"type":"rule","color":"#8a8a8a","strokeWidth":1.5},
   "encoding":{"y":{"datum":0,"type":"quantitative"},"x":{"datum":-0.1,"type":"quantitative"},"x2":{"datum":0.1}}},
  {"data":{"values":[{}]},"mark":{"type":"rule","color":"#222222","strokeWidth":2.5},
   "encoding":{"x":{"datum":-0.1,"type":"quantitative"},"y":{"datum":-0.02,"type":"quantitative"},"y2":{"datum":0.03}}},
  {"data":{"values":[{}]},"mark":{"type":"rule","color":"#222222","strokeWidth":2.5},
   "encoding":{"y":{"datum":-0.02,"type":"quantitative"},"x":{"datum":-0.1,"type":"quantitative"},"x2":{"datum":0.1}}},
  {"data":{"values":[{}]},"mark":{"type":"rect","fill":"white","stroke":"black","strokeWidth":2.5},
   "encoding":{"x":{"datum":0.0815,"type":"quantitative"},"x2":{"datum":0.1062},"y":{"datum":0.0331,"type":"quantitative"},"y2":{"datum":0.02712}}},
  {"data":{"values":[{}]},"mark":{"type":"text","text":"A","font":"Liberation Serif","fontWeight":"bold","fontSize":36,"color":"black","align":"center","baseline":"middle"},
   "encoding":{"x":{"datum":0.0938,"type":"quantitative"},"y":{"datum":0.0302,"type":"quantitative"}}}
 ]
},
{
 "width":578,"height":660,
 "title":{"text":"Loadings","frame":"group","offset":0,"dy":22,"fontSize":16},
 "layer":[
  {"data":{"name":"loadings"},
   "mark":{"type":"line","color":"#0000ff","strokeWidth":2.5},
   "encoding":{
    "x":{"field":"wn","type":"quantitative","scale":{"domain":[229.71,4339.29],"reverse":true,"nice":false,"zero":false},
      "axis":{"orient":"bottom","offset":-66,"values":[3998.013,3473.43,2944.99,2445.48,1917.04,1417.53,904.519,412.366],"tickSize":0,"labelPadding":14,
        "labelExpr":"'' + datum.value",
        "title":"X-variables (PC-1) (67%)","titleX":282,"titleY":42,"titleBaseline":"middle","titleAnchor":"middle"}},
    "y":{"field":"loading","type":"quantitative","scale":{"domain":[-0.24764,0.23236],"nice":false,"zero":false},
      "axis":{"orient":"left","offset":-48,"values":[-0.2,-0.15,-0.1,-0.05,0,0.05,0.1,0.15,0.2],"tickSize":4,"labelPadding":8,
        "labelExpr":"abs(datum.value*10 - round(datum.value*10)) > 0.001 ? '' : (datum.value < 0 ? '-' : '') + replace(format(abs(datum.value), '~g'), '.', ',')",
        "title":null}}
   }},
  {"data":{"values":[{}]},"mark":{"type":"rule","color":"#8a8a8a","strokeWidth":2},
   "encoding":{"y":{"datum":0,"type":"quantitative"},"x":{"datum":3998.013,"type":"quantitative"},"x2":{"datum":229.71}}},
  {"data":{"values":[{}]},"mark":{"type":"rule","color":"#222222","strokeWidth":2.5},
   "encoding":{"x":{"datum":3998.013,"type":"quantitative"},"y":{"datum":-0.2,"type":"quantitative"},"y2":{"datum":0.2}}},
  {"data":{"values":[{}]},"mark":{"type":"rule","color":"black","strokeWidth":9},
   "encoding":{"y":{"datum":-0.2,"type":"quantitative"},"x":{"datum":4005,"type":"quantitative"},"x2":{"datum":229.71}}},
  {"data":{"values":[{}]},"mark":{"type":"rect","fill":"white","stroke":"black","strokeWidth":2.5},
   "encoding":{"x":{"datum":826.9,"type":"quantitative"},"x2":{"datum":364.8},"y":{"datum":0.2325,"type":"quantitative"},"y2":{"datum":0.1825}}},
  {"data":{"values":[{}]},"mark":{"type":"text","text":"B","font":"Liberation Serif","fontWeight":"bold","fontSize":36,"color":"black","align":"center","baseline":"middle"},
   "encoding":{"x":{"datum":595.9,"type":"quantitative"},"y":{"datum":0.2073,"type":"quantitative"}}}
 ]
}
]
}
